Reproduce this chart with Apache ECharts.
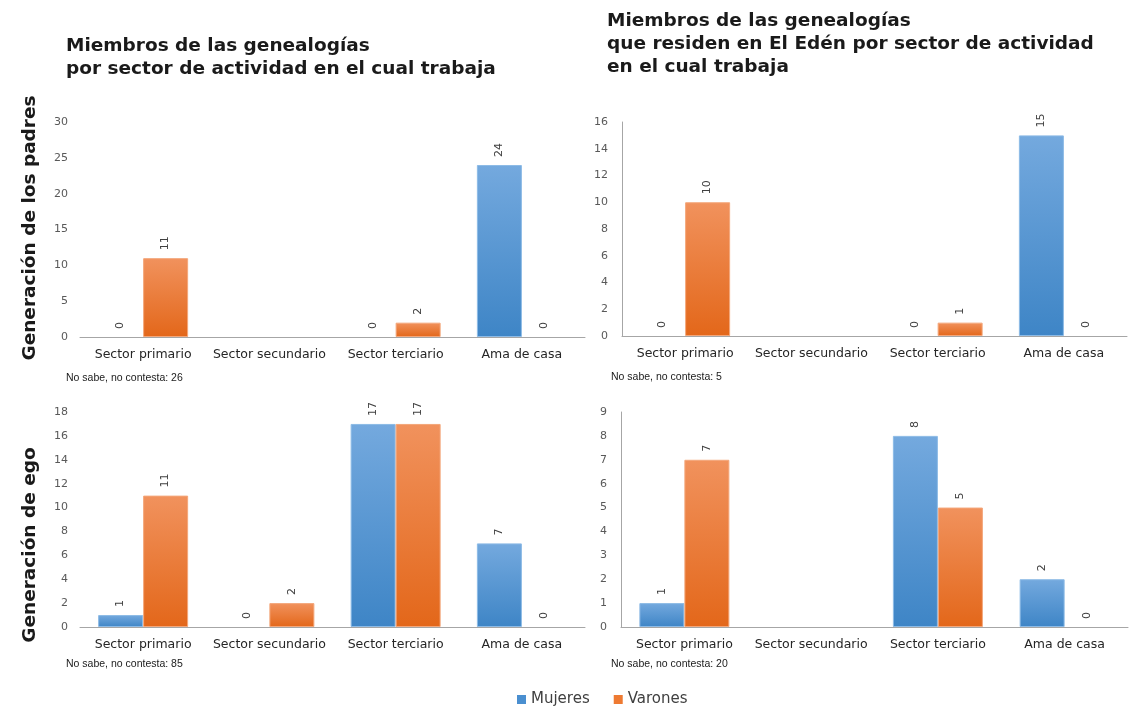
<!DOCTYPE html>
<html><head><meta charset="utf-8">
<script src="https://cdn.jsdelivr.net/npm/echarts@6/dist/echarts.min.js"></script>
<style>html,body{margin:0;padding:0;background:#fff}#c{width:1130px;height:711px}</style>
</head><body><div id="c"></div>
<script>
const categories = ['Sector primario', 'Sector secundario', 'Sector terciario', 'Ama de casa'];
const seriesNames = ['Mujeres', 'Varones'];
// Generación de los padres — todas las genealogías
const padresTodosMujeres = [0, null, 0, 24];
const padresTodosVarones = [11, null, 2, 0];
// Generación de los padres — residentes en El Edén
const padresEdenMujeres = [0, null, 0, 15];
const padresEdenVarones = [10, null, 1, 0];
// Generación de ego — todas las genealogías
const egoTodosMujeres = [1, 0, 17, 7];
const egoTodosVarones = [11, 2, 17, 0];
// Generación de ego — residentes en El Edén
const egoEdenMujeres = [1, null, 8, 2];
const egoEdenVarones = [7, null, 5, 0];
const noSabe = [26, 5, 85, 20];
const yMax = [30, 16, 18, 9];
const yInterval = [5, 2, 2, 1];
const titleLeft = 'Miembros de las genealogías\npor sector de actividad en el cual trabaja';
const titleRight = 'Miembros de las genealogías\nque residen en El Edén por sector de actividad\nen el cual trabaja';
const rowLabels = ['Generación de los padres', 'Generación de ego'];

const FONT = 'DejaVu Sans';
const blue = {type:'linear',x:0,y:0,x2:0,y2:1,colorStops:[{offset:0,color:'#74a9de'},{offset:1,color:'#3e85c6'}]};
const orange = {type:'linear',x:0,y:0,x2:0,y2:1,colorStops:[{offset:0,color:'#f1925d'},{offset:1,color:'#e3671a'}]};

const grids = [
  {left:80, top:122, width:505, height:215},
  {left:622, top:122, width:505, height:214},
  {left:80, top:412, width:505, height:215},
  {left:621, top:412, width:507, height:215}
];
const showYLine = [false, true, false, true];
const data = [
  [padresTodosMujeres, padresTodosVarones],
  [padresEdenMujeres, padresEdenVarones],
  [egoTodosMujeres, egoTodosVarones],
  [egoEdenMujeres, egoEdenVarones]
];

const xAxis = grids.map((g,i)=>({
  type:'category', gridIndex:i, data:categories,
  axisLine:{lineStyle:{color:'#a6a6a6',width:1}},
  axisTick:{show:false},
  axisLabel:{color:'#262626',fontFamily:FONT,fontSize:12.5,margin:11,interval:0}
}));
const yAxis = grids.map((g,i)=>({
  type:'value', gridIndex:i, min:0, max:yMax[i], interval:yInterval[i],
  axisLine:{show:showYLine[i],lineStyle:{color:'#a6a6a6'}},
  axisTick:{show:false},
  splitLine:{show:false},
  axisLabel:{color:'#595959',fontFamily:FONT,fontSize:11,margin:showYLine[i]?14:12}
}));

const series = [];
data.forEach((pair,i)=>{
  pair.forEach((vals,k)=>{
    series.push({
      name:seriesNames[k], type:'bar', xAxisIndex:i, yAxisIndex:i,
      data:vals.map(v=> v===0 ? {value:v, itemStyle:{borderWidth:0}} : v),
      barWidth:45, barGap:'0%',
      itemStyle:{color:k===0?blue:orange, borderColor:k===0?'#8dbbe6':'#f4a77b', borderWidth:1},
      label:{show:true, position:'top', rotate:90, distance:8, align:'left', verticalAlign:'middle',
        color:'#404040', fontFamily:FONT, fontSize:11,
        formatter:p=> (p.value===null||p.value===undefined)?'':String(p.value)}
    });
  });
});

const graphic = [
  {type:'text', left:66, top:35, style:{text:titleLeft, font:'bold 18.5px "DejaVu Sans"', fill:'#1a1a1a', lineHeight:23}},
  {type:'text', left:607, top:10, style:{text:titleRight, font:'bold 18.5px "DejaVu Sans"', fill:'#1a1a1a', lineHeight:23}},
  {type:'text', x:30, y:228, rotation:Math.PI/2, style:{text:rowLabels[0], font:'bold 18.5px "DejaVu Sans"', fill:'#1a1a1a', align:'center', verticalAlign:'middle'}},
  {type:'text', x:30, y:545, rotation:Math.PI/2, style:{text:rowLabels[1], font:'bold 18.5px "DejaVu Sans"', fill:'#1a1a1a', align:'center', verticalAlign:'middle'}},
  {type:'text', left:66, top:373, style:{text:'No sabe, no contesta: '+noSabe[0], font:'10.5px "Liberation Sans"', fill:'#1a1a1a'}},
  {type:'text', left:611, top:372, style:{text:'No sabe, no contesta: '+noSabe[1], font:'10.5px "Liberation Sans"', fill:'#1a1a1a'}},
  {type:'text', left:66, top:659, style:{text:'No sabe, no contesta: '+noSabe[2], font:'10.5px "Liberation Sans"', fill:'#1a1a1a'}},
  {type:'text', left:611, top:659, style:{text:'No sabe, no contesta: '+noSabe[3], font:'10.5px "Liberation Sans"', fill:'#1a1a1a'}}
];

const chart = echarts.init(document.getElementById('c'), null, {renderer:'canvas'});
chart.setOption({
  animation:false,
  grid:grids,
  xAxis:xAxis, yAxis:yAxis, series:series, graphic:graphic,
  legend:{data:[{name:'Mujeres',itemStyle:{color:'#4a8fd0',borderWidth:0}},{name:'Varones',itemStyle:{color:'#ee7a32',borderWidth:0}}],
    top:687, left:512, icon:'rect', itemWidth:9, itemHeight:9, itemGap:24,
    textStyle:{color:'#404040',fontFamily:FONT,fontSize:15}}
});
</script></body></html>
